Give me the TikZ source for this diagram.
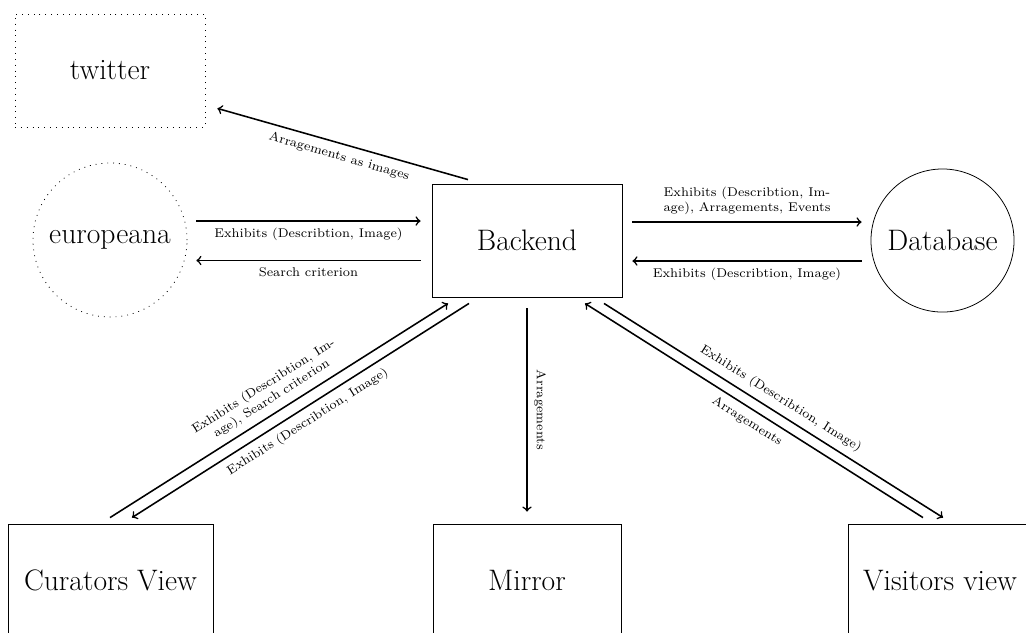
\documentclass[tikz,border=0pt]{standalone}
\usetikzlibrary{calc}
\begin{document}
\begin{tikzpicture}[x=0.513pt,y=-0.513pt,
  boxnode/.style={draw,rectangle,minimum height=58pt,inner sep=2pt,font=\fontsize{15.2}{18}\selectfont},
  dotbox/.style={boxnode,dash pattern=on 0.45pt off 2.55pt},
  circnode/.style={draw,circle,inner sep=2pt,font=\fontsize{15.2}{18}\selectfont},
  conn/.style={thick,->},
  lab/.style={font=\fontsize{6.5}{7.6}\selectfont,align=center,sloped,midway}]
\useasboundingbox (0,0) rectangle (1026,632);
\clip (0,0) rectangle (1026,632);

\node[dotbox,minimum width=97.5pt] (twitter) at (110,70.5) {twitter};
\node[circnode,minimum size=79pt,dash pattern=on 0.45pt off 2.55pt] (euro) at (110,240) {europeana};
\node[boxnode,minimum width=97.5pt] (backend) at (527,240.5) {Backend};
\node[circnode,minimum size=73.4pt] (db) at (942.5,240.5) {Database};
\node[boxnode,minimum width=105.2pt] (cur) at (110.5,580.5) {Curators View};
\node[boxnode,minimum width=96.5pt] (mirror) at (527,580.5) {Mirror};
\node[boxnode,minimum width=94.4pt] (vis) at (940,580.5) {Visitors view};

\draw[conn] ($(backend.north)+(-59,-4)$) -- ($(twitter.south east)+(12,-19)$)
  node[lab,below] {Arragements as images};

\draw[conn] ($(euro.east)+(9,-19)$) -- ($(backend.west)+(-11,-19.5)$)
  node[lab,below] {Exhibits (Describtion, Image)};
\draw[conn] ($(backend.west)+(-11,20)$) -- ($(euro.east)+(9,20.5)$)
  node[lab,below] {Search criterion};

\draw[conn] ($(backend.east)+(10,-18.5)$) -- ($(db.west)+(-9,-18.5)$)
  node[lab,above] {Exhibits (Describtion, Im-\\age), Arragements, Events};
\draw[conn] ($(db.west)+(-9,20.5)$) -- ($(backend.east)+(10,20.5)$)
  node[lab,below] {Exhibits (Describtion, Image)};

\draw[conn] ($(cur.north)+(-0.5,-6)$) -- ($(backend.south)+(-79,6)$)
  node[lab,above] {Exhibits (Describtion, Im-\\age), Search criterion};
\draw[conn] ($(backend.south)+(-58,6)$) -- ($(cur.north)+(21.5,-6)$)
  node[lab,below] {Exhibits (Describtion, Image)};

\draw[conn] ($(backend.south)+(0,11)$) -- ($(mirror.north)+(0,-12)$)
  node[lab,above] {Arragements};

\draw[conn] ($(vis.north)+(-17,-6)$) -- ($(backend.south)+(58,6)$)
  node[lab,below] {Arragements};
\draw[conn] ($(backend.south)+(77,6)$) -- ($(vis.north)+(3,-6)$)
  node[lab,above] {Exhibits (Describtion, Image)};
\end{tikzpicture}
\end{document}
